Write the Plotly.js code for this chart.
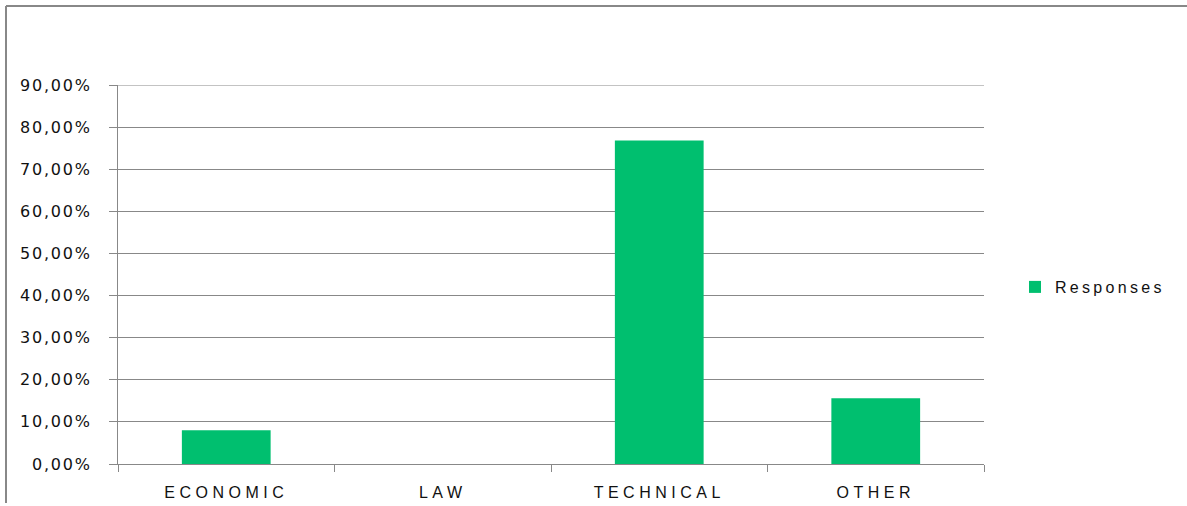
<!DOCTYPE html>
<html>
<head>
<meta charset="utf-8">
<script src="https://cdn.plot.ly/plotly-3.0.1.min.js"></script>
<style>
html,body{margin:0;padding:0;background:#fff;}
#chart{width:1187px;height:506px;}
.xtick text{letter-spacing:4.5px;}
.ytick text{letter-spacing:1.8px;}
.legendtext{letter-spacing:3.3px;}
</style>
</head>
<body>
<div id="chart"></div>
<script>
const categories = ["ECONOMIC", "LAW", "TECHNICAL", "OTHER"];
const responses = [0.080, 0.0, 0.768, 0.156];
const seriesName = "Responses";
const yMax = 0.9;

const W = 1187, H = 506;
const M = {l: 118, r: 203, t: 85, b: 42};
const pw = W - M.l - M.r, ph = H - M.t - M.b;
const px = x => (x - M.l) / pw;
const py = y => (H - M.b - y) / ph;

const trace = {
  type: 'bar',
  x: categories,
  y: responses,
  name: seriesName,
  marker: {color: '#00bf6f'},
  showlegend: true
};

const layout = {
  width: W, height: H,
  margin: M,
  paper_bgcolor: '#fff',
  plot_bgcolor: '#fff',
  separators: ',.',
  bargap: 0.59,
  font: {family: 'DejaVu Sans, Verdana, sans-serif', size: 16, color: '#000'},
  xaxis: {
    type: 'category',
    showgrid: false,
    showline: true, linecolor: '#888', linewidth: 1,
    ticks: 'outside', tickson: 'boundaries', ticklen: 7, tickcolor: '#888', tickwidth: 1,
    tickfont: {family: 'Liberation Sans, Arial, sans-serif', size: 16, color: '#111'},
    ticklabelstandoff: 14,
    zeroline: false, fixedrange: true
  },
  yaxis: {
    range: [0, yMax], dtick: 0.1, tick0: 0,
    tickformat: '.2%',
    showgrid: true, gridcolor: '#888', gridwidth: 1,
    showline: true, linecolor: '#888', linewidth: 1,
    ticks: 'outside', ticklen: 8, tickcolor: '#888', tickwidth: 1,
    tickfont: {family: 'DejaVu Sans, Verdana, sans-serif', size: 16, color: '#111'},
    ticklabelstandoff: 14,
    zeroline: false, fixedrange: true
  },
  showlegend: true,
  legend: {
    x: px(1015), y: py(287), xanchor: 'left', yanchor: 'middle',
    font: {family: 'Liberation Sans, Arial, sans-serif', size: 16, color: '#111'},
    bgcolor: 'rgba(0,0,0,0)'
  },
  shapes: [
    {type: 'line', xref: 'paper', yref: 'y', x0: 0, x1: 1, y0: yMax, y1: yMax, line: {color: '#888', width: 1}},
    {type: 'line', xref: 'paper', yref: 'paper', x0: px(6), x1: px(1187), y0: py(6), y1: py(6), line: {color: '#888', width: 2}},
    {type: 'line', xref: 'paper', yref: 'paper', x0: px(6), x1: px(6), y0: py(6), y1: py(503), line: {color: '#888', width: 2}}
  ]
};

Plotly.newPlot('chart', [trace], layout, {displayModeBar: false, staticPlot: true});
</script>
</body>
</html>
